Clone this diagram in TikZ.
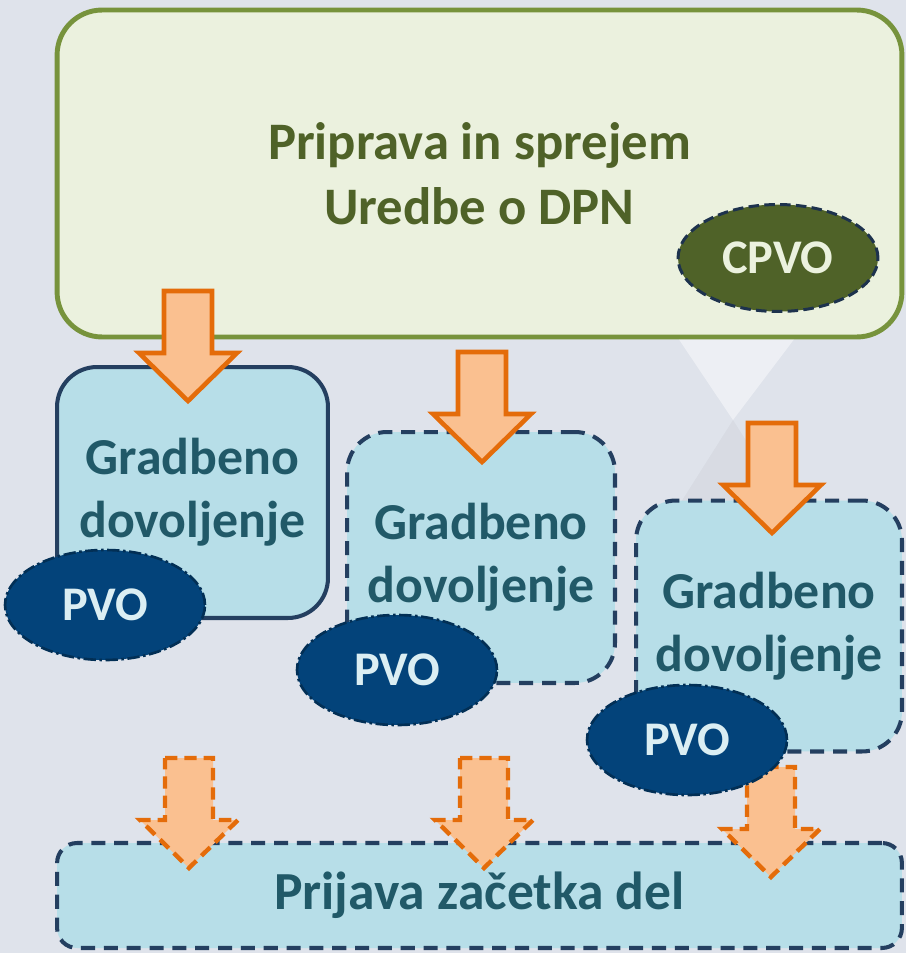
\documentclass[tikz,border=0pt]{standalone}
\usepackage{fontspec}
\setmainfont{Carlito}
\usepackage{tikz}
\usetikzlibrary{shapes.geometric}
\definecolor{ozadje}{HTML}{DFE3EB}
\definecolor{zelenarob}{HTML}{77933C}
\definecolor{zelenapolnilo}{HTML}{EBF1DE}
\definecolor{olivna}{HTML}{4F6228}
\definecolor{modrapolnilo}{HTML}{B7DEE8}
\definecolor{modrarob}{HTML}{243F60}
\definecolor{modrobesedilo}{HTML}{215968}
\definecolor{temnomodra}{HTML}{03437A}
\definecolor{svetlo}{HTML}{DBEEF3}
\definecolor{oranzna}{HTML}{E46C0A}
\definecolor{breskev}{HTML}{FAC090}
\tikzset{
  veliki/.style={draw=zelenarob, fill=zelenapolnilo, line width=2.8pt, rounded corners=0.9cm, text=olivna, font=\bfseries\fontsize{30}{36.8}\selectfont, align=center},
  gd/.style={fill=modrapolnilo, draw=modrarob, line width=2.3pt, rounded corners=0.8cm, text=modrobesedilo, font=\bfseries\fontsize{29.5}{35.7}\selectfont, align=center, minimum height=5.02cm},
  crtkano/.style={dash pattern=on 8pt off 5pt},
  pvo/.style={ellipse, fill=temnomodra, draw=temnomodra!70!black, line width=1.5pt, dash pattern=on 7pt off 2pt on 1.5pt off 2pt, minimum width=4cm, minimum height=2.2cm, inner sep=0, text=svetlo, font=\bfseries\fontsize{27.5}{30}\selectfont},
  polna puscica/.style={draw=oranzna, fill=breskev, line width=2.6pt},
  crtkana puscica/.style={draw=oranzna, fill=breskev, line width=2.5pt, dash pattern=on 7pt off 4pt},
}
\newcommand{\puscica}[3]{\draw[#1] (#2-24,#3) -- ++(48,0) -- ++(0,62) -- ++(25,0) -- ++(-49,48) -- ++(-49,-48) -- ++(25,0) -- cycle;}

\begin{document}
\begin{tikzpicture}[x=0.02cm,y=-0.02cm]

  %背景
  \fill[ozadje] (0,0) rectangle (906,953);
  \useasboundingbox (0,0) rectangle (906,953);
  \fill[white, opacity=0.45] (678,338) -- (795,338) -- (733,420) -- cycle;
  \fill[black, opacity=0.03] (733,420) -- (790,510) -- (676,510) -- cycle;

  %上の箱
  \node[veliki, minimum width=16.9cm, minimum height=6.54cm] (uredba) at (479.5,173.5) {Priprava in sprejem\\Uredbe o DPN};
  \node[pvo, fill=olivna, draw=modrarob!80!black, line width=1.7pt, dash pattern=on 6pt off 3pt, minimum height=2.14cm, text=zelenapolnilo] (cpvo) at (778,258) {CPVO};

  %gradbeno dovoljenje 1
  \node[gd, minimum width=5.42cm] (gd1) at (192.5,492.5) {Gradbeno\\dovoljenje};
  \puscica{polna puscica}{188}{291}

  %gradbeno dovoljenje 2
  \node[gd, crtkano, minimum width=5.36cm] (gd2) at (481,557.5) {Gradbeno\\dovoljenje};
  \puscica{polna puscica}{482}{352}

  %gradbeno dovoljenje 3
  \node[gd, crtkano, minimum width=5.32cm] (gd3) at (769,626) {Gradbeno\\dovoljenje};
  \puscica{polna puscica}{772}{423}

  %下の箱
  \node[gd, crtkano, rounded corners=0.4cm, minimum width=16.9cm, minimum height=2.1cm, font=\bfseries\fontsize{30.5}{36}\selectfont] (prijava) at (479.5,895.5) {Prijava začetka del};
  \puscica{crtkana puscica}{189}{758}
  \puscica{crtkana puscica}{484}{758}
  \puscica{crtkana puscica}{771}{767}

  %PVO
  \node[pvo] (pvo1) at (105,605) {PVO};
  \node[pvo] (pvo2) at (397,670) {PVO};
  \node[pvo] (pvo3) at (687,740) {PVO};

\end{tikzpicture}
\end{document}
